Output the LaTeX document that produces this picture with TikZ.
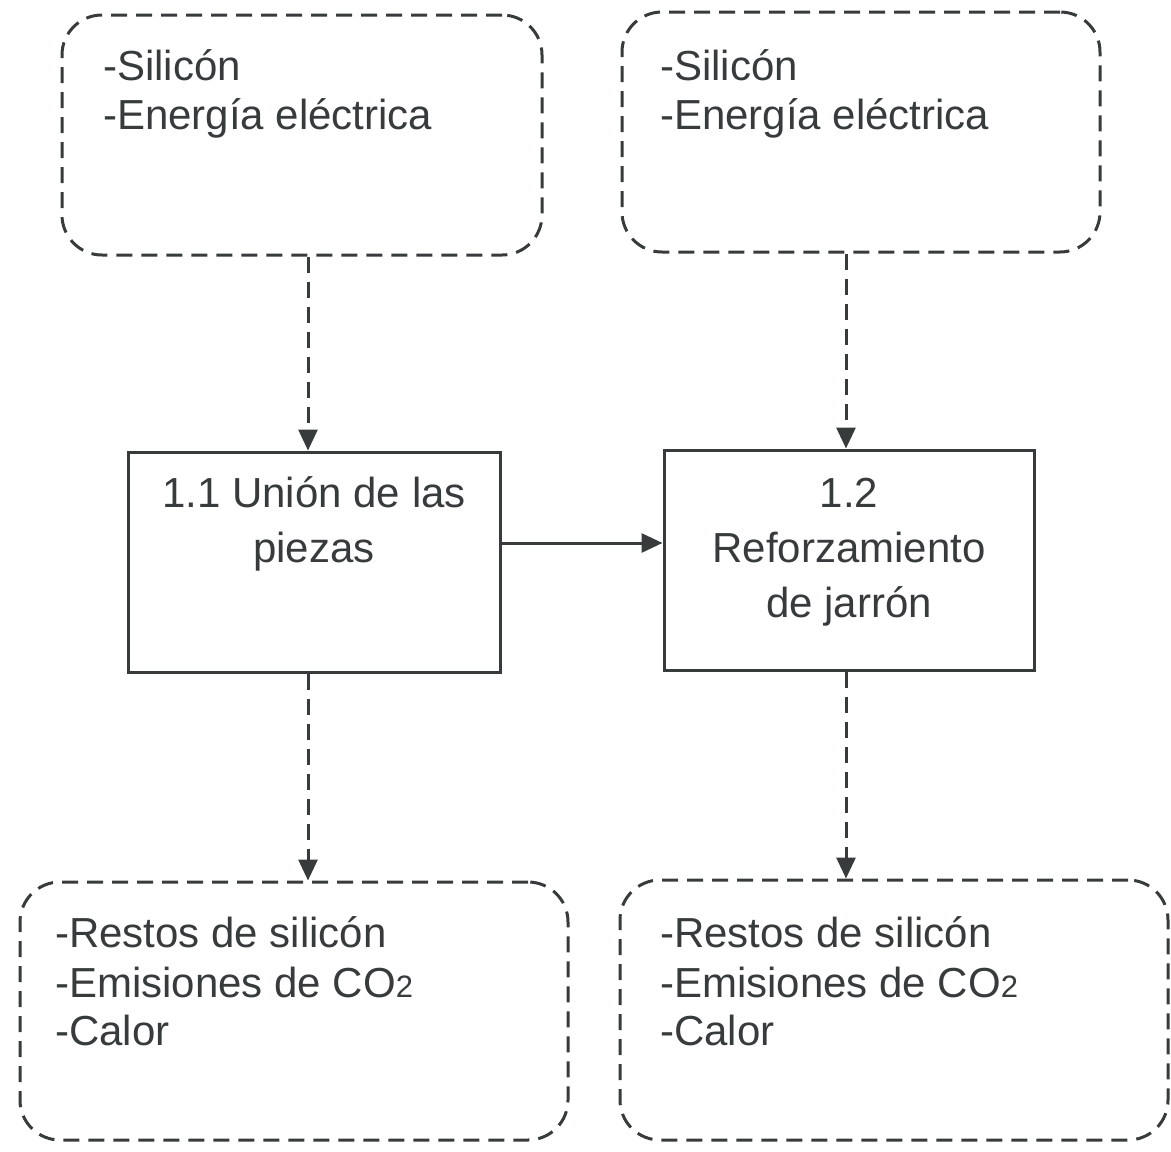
\documentclass[tikz,border=0pt]{standalone}
\usepackage{fontspec}
\setmainfont{Liberation Sans}
\usetikzlibrary{arrows.meta,calc}
\definecolor{ink}{HTML}{383B3B}
\begin{document}
\begin{tikzpicture}[x=1pt,y=-1pt,
  dbox/.style={draw=ink, line width=3pt, dash pattern=on 16pt off 9pt, rounded corners=40pt, inner sep=0pt},
  pbox/.style={draw=ink, line width=3pt, inner sep=0pt},
  txt/.style={text=ink, font=\fontsize{42}{49}\selectfont, inner sep=0pt},
  darr/.style={draw=ink, line width=3pt, dash pattern=on 16pt off 9pt, -{Triangle[width=19pt,length=21pt]}},
  sarr/.style={draw=ink, line width=3pt, -{Triangle[width=19pt,length=21pt]}}]
\useasboundingbox (0,0) rectangle (1171,1152);
% boxes
\node[dbox, minimum width=480pt, minimum height=240pt] (in1) at (302,135) {};
\node[dbox, minimum width=478pt, minimum height=240pt] (in2) at (861,132) {};
\node[pbox, minimum width=372pt, minimum height=220pt] (c11) at (314,562) {};
\node[pbox, minimum width=370pt, minimum height=220pt] (c12) at (849,560) {};
\node[dbox, minimum width=548pt, minimum height=258pt] (out1) at (294,1011) {};
\node[dbox, minimum width=548pt, minimum height=260pt] (out2) at (894,1010) {};
% texts
\node[txt, anchor=base west] (t1a) at (103,80) {-Silicón};
\node[txt, anchor=base west] (t1b) at (103,129) {-Energía eléctrica};
\node[txt, anchor=base west] (t2a) at (660,80) {-Silicón};
\node[txt, anchor=base west] (t2b) at (660,129) {-Energía eléctrica};
\node[txt, anchor=base] (p1a) at (314,507) {1.1 Unión de las};
\node[txt, anchor=base] (p1b) at (314,562) {piezas};
\node[txt, anchor=base] (p2a) at (849,507) {1.2};
\node[txt, anchor=base] (p2b) at (849,562) {Reforzamiento};
\node[txt, anchor=base] (p2c) at (849,617) {de jarrón};
\node[txt, anchor=base west] (o1a) at (55,947) {-Restos de silicón};
\node[txt, anchor=base west] (o1b) at (55,997) {-Emisiones de CO{\fontsize{31}{31}\selectfont 2}};
\node[txt, anchor=base west] (o1c) at (55,1045) {-Calor};
\node[txt, anchor=base west] (o2a) at (660,947) {-Restos de silicón};
\node[txt, anchor=base west] (o2b) at (660,997) {-Emisiones de CO{\fontsize{31}{31}\selectfont 2}};
\node[txt, anchor=base west] (o2c) at (660,1045) {-Calor};
% connectors
\draw[darr] ($(in1.south)+(6,0)$) -- ($(c11.north)+(-6,0)$);
\draw[darr] ($(in2.south)+(-15,0)$) -- ($(c12.north)+(-3,0)$);
\draw[darr] ($(c11.south)+(-6,0)$) -- ($(out1.north)+(14,0)$);
\draw[darr] ($(c12.south)+(-3,0)$) -- ($(out2.north)+(-48,0)$);
\draw[sarr] ($(c11.east)+(0,-19)$) -- ($(c12.west)+(0,-17)$);
\end{tikzpicture}
\end{document}
